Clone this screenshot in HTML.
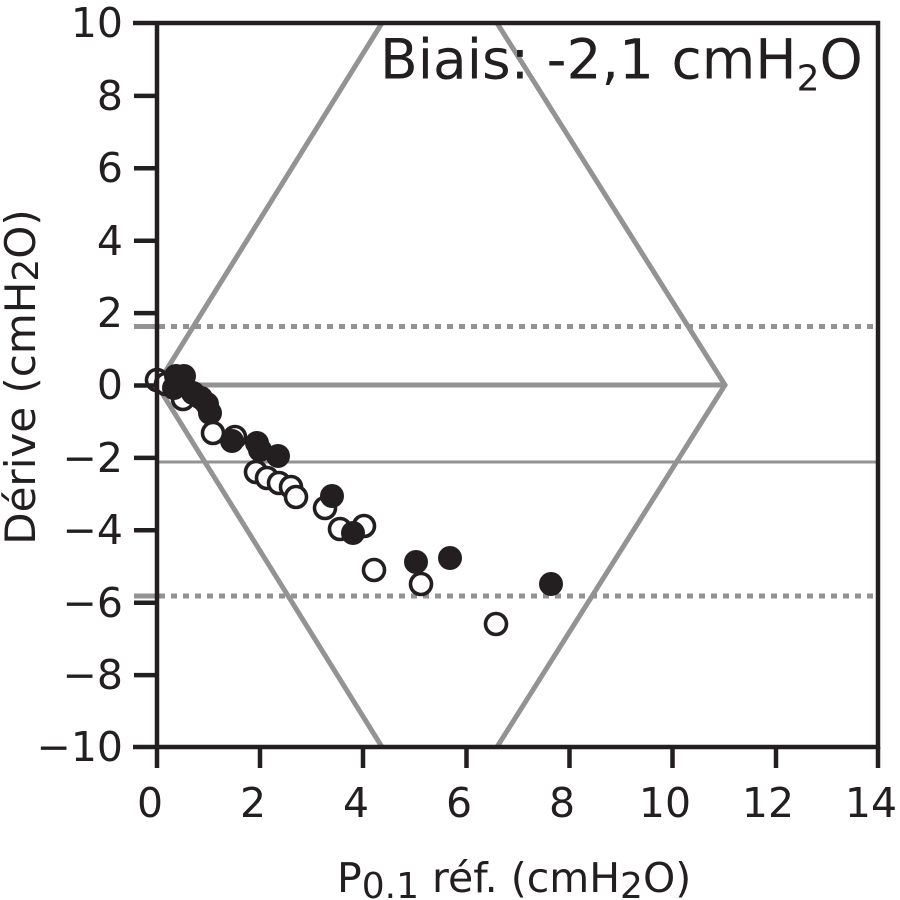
<!DOCTYPE html>
<html>
<head>
<meta charset="utf-8">
<style>
  html, body { margin: 0; padding: 0; background: #ffffff; }
  svg { display: block; }
  text { font-family: "DejaVu Sans", "Liberation Sans", sans-serif; fill: #231f20; }
</style>
</head>
<body>
<svg width="900" height="900" viewBox="0 0 900 900" xmlns="http://www.w3.org/2000/svg">
  <rect width="900" height="900" fill="#ffffff"/>

  <!-- gray reference lines -->
  <g stroke="#939393" fill="none" stroke-linecap="butt">
    <!-- diamond -->
    <polyline points="382,23 157,385 382,747" stroke-width="5"/>
    <polyline points="497,23 725,385 497,747" stroke-width="5" stroke-linejoin="miter"/>
    <!-- zero line -->
    <line x1="157" y1="385" x2="725" y2="385" stroke-width="5"/>
    <!-- bias line -->
    <line x1="157" y1="462" x2="878" y2="462" stroke-width="3"/>
    <!-- limits of agreement -->
    <line x1="134" y1="326.5" x2="157" y2="326.5" stroke-width="5"/>
    <line x1="159" y1="326.5" x2="876" y2="326.5" stroke-width="5" stroke-dasharray="6 6"/>
    <line x1="134" y1="596" x2="157" y2="596" stroke-width="5"/>
    <line x1="159" y1="596" x2="876" y2="596" stroke-width="5" stroke-dasharray="6 6"/>
  </g>

  <!-- data points -->
  <g stroke="#231f20" stroke-width="3.6">
    <circle cx="157" cy="380" r="10.5" fill="#fff"/>
    <circle cx="166" cy="384" r="10.5" fill="#fff"/>
    <circle cx="183" cy="399" r="10.5" fill="#fff"/>
    <circle cx="176" cy="376" r="12" fill="#231f20" stroke="none"/>
    <circle cx="184" cy="376" r="12" fill="#231f20" stroke="none"/>
    <circle cx="174" cy="388" r="12" fill="#231f20" stroke="none"/>
    <circle cx="193" cy="393" r="12" fill="#231f20" stroke="none"/>
    <circle cx="201" cy="398" r="12" fill="#231f20" stroke="none"/>
    <circle cx="207" cy="404" r="12" fill="#231f20" stroke="none"/>
    <circle cx="210" cy="413" r="12" fill="#231f20" stroke="none"/>
    <circle cx="213" cy="433" r="10.5" fill="#fff"/>
    <circle cx="232" cy="441" r="12" fill="#231f20" stroke="none"/>
    <circle cx="235" cy="437" r="10.5" fill="none"/>
    <circle cx="256" cy="472" r="10.5" fill="#fff"/>
    <circle cx="267" cy="478" r="10.5" fill="#fff"/>
    <circle cx="257" cy="443" r="12" fill="#231f20" stroke="none"/>
    <circle cx="260" cy="450" r="12" fill="#231f20" stroke="none"/>
    <circle cx="278" cy="456" r="12" fill="#231f20" stroke="none"/>
    <circle cx="279" cy="483" r="10.5" fill="#fff"/>
    <circle cx="291" cy="487" r="10.5" fill="#fff"/>
    <circle cx="296" cy="497" r="10.5" fill="#fff"/>
    <circle cx="325" cy="508" r="10.5" fill="#fff"/>
    <circle cx="332" cy="496" r="12" fill="#231f20" stroke="none"/>
    <circle cx="340" cy="529" r="10.5" fill="#fff"/>
    <circle cx="364" cy="526" r="10.5" fill="#fff"/>
    <circle cx="353" cy="533" r="12" fill="#231f20" stroke="none"/>
    <circle cx="374" cy="570" r="10.5" fill="#fff"/>
    <circle cx="416" cy="562" r="12" fill="#231f20" stroke="none"/>
    <circle cx="421" cy="584" r="10.5" fill="#fff"/>
    <circle cx="450" cy="558" r="12" fill="#231f20" stroke="none"/>
    <circle cx="496" cy="624" r="10.5" fill="#fff"/>
    <circle cx="551" cy="584" r="12" fill="#231f20" stroke="none"/>
  </g>

  <!-- axes frame -->
  <g stroke="#231f20" stroke-width="4.5" fill="none" stroke-linecap="butt">
    <line x1="133" y1="23" x2="880" y2="23"/>
    <line x1="133" y1="747" x2="880" y2="747"/>
    <line x1="157" y1="21" x2="157" y2="749"/>
    <line x1="878" y1="21" x2="878" y2="749"/>
    <!-- y ticks -->
    <line x1="134" y1="95.9" x2="157" y2="95.9"/>
    <line x1="134" y1="168.3" x2="157" y2="168.3"/>
    <line x1="134" y1="240.7" x2="157" y2="240.7"/>
    <line x1="134" y1="313.1" x2="157" y2="313.1"/>
    <line x1="134" y1="385.5" x2="157" y2="385.5"/>
    <line x1="134" y1="457.9" x2="157" y2="457.9"/>
    <line x1="134" y1="530.3" x2="157" y2="530.3"/>
    <line x1="134" y1="602.7" x2="157" y2="602.7"/>
    <line x1="134" y1="675.1" x2="157" y2="675.1"/>
    <!-- x ticks -->
    <line x1="157" y1="747" x2="157" y2="768"/>
    <line x1="260" y1="747" x2="260" y2="768"/>
    <line x1="363" y1="747" x2="363" y2="768"/>
    <line x1="466.5" y1="747" x2="466.5" y2="768"/>
    <line x1="569.5" y1="747" x2="569.5" y2="768"/>
    <line x1="672.5" y1="747" x2="672.5" y2="768"/>
    <line x1="776" y1="747" x2="776" y2="768"/>
    <line x1="878" y1="747" x2="878" y2="768"/>
  </g>

  <!-- y tick labels -->
  <g font-size="41" text-anchor="end">
    <text x="123" y="37">10</text>
    <text x="123" y="110">8</text>
    <text x="123" y="182">6</text>
    <text x="123" y="255">4</text>
    <text x="123" y="327">2</text>
    <text x="123" y="399">0</text>
    <text x="123" y="472">−2</text>
    <text x="123" y="544">−4</text>
    <text x="123" y="617">−6</text>
    <text x="123" y="689">−8</text>
    <text x="123" y="761">−10</text>
  </g>

  <!-- x tick labels -->
  <g font-size="41" text-anchor="middle">
    <text x="150" y="817">0</text>
    <text x="253" y="817">2</text>
    <text x="356" y="817">4</text>
    <text x="459" y="817">6</text>
    <text x="562" y="817">8</text>
    <text x="665" y="817">10</text>
    <text x="768" y="817">12</text>
    <text x="871" y="817">14</text>
  </g>

  <!-- x axis label -->
  <text x="337" y="892" font-size="41">P<tspan font-size="36" dy="6">0.1</tspan><tspan dy="-6"> réf. (cmH</tspan><tspan font-size="36" dy="6">2</tspan><tspan dy="-6">O)</tspan></text>

  <!-- y axis label -->
  <text transform="translate(35,377) rotate(-90)" text-anchor="middle" font-size="42">Dérive (cmH<tspan font-size="36" dy="3">2</tspan><tspan dy="-3">O)</tspan></text>

  <!-- bias annotation -->
  <text x="380" y="78.5" font-size="55">Biais: -2,1 cmH<tspan font-size="36" dy="12">2</tspan><tspan dy="-12">O</tspan></text>
</svg>
</body>
</html>
